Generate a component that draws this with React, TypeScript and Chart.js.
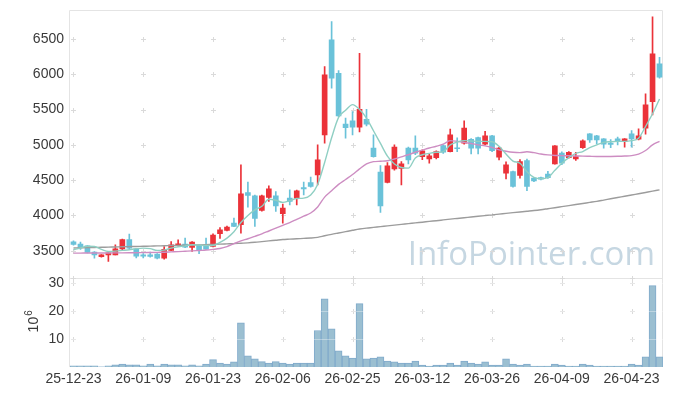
import React, { useEffect, useRef } from 'react';
import { Chart, registerables } from 'chart.js';

Chart.register(...registerables);

const dates = [
  '25-12-23','25-12-24','25-12-26','25-12-29','25-12-30','26-01-02','26-01-05','26-01-06','26-01-07','26-01-08',
  '26-01-09','26-01-12','26-01-13','26-01-14','26-01-15','26-01-16','26-01-19','26-01-20','26-01-21','26-01-22',
  '26-01-23','26-01-26','26-01-27','26-01-28','26-01-29','26-01-30','26-02-02','26-02-03','26-02-04','26-02-05',
  '26-02-06','26-02-09','26-02-10','26-02-11','26-02-12','26-02-13','26-02-19','26-02-20','26-02-23','26-02-24',
  '26-02-25','26-02-26','26-02-27','26-03-03','26-03-04','26-03-05','26-03-06','26-03-09','26-03-10','26-03-11',
  '26-03-12','26-03-13','26-03-16','26-03-17','26-03-18','26-03-19','26-03-20','26-03-23','26-03-24','26-03-25',
  '26-03-26','26-03-27','26-03-30','26-03-31','26-04-01','26-04-02','26-04-03','26-04-06','26-04-07','26-04-08',
  '26-04-09','26-04-10','26-04-13','26-04-14','26-04-15','26-04-16','26-04-17','26-04-20','26-04-21','26-04-22',
  '26-04-23','26-04-24','26-04-27','26-04-28','26-04-29'
];

const opens = [
  3625,3595,3571,3481,3415,3443,3443,3528,3660,3528,
  3443,3443,3453,3396,3505,3571,3595,3547,3576,3576,
  3561,3741,3788,3892,3868,4325,4278,4070,4254,4278,
  4024,4245,4245,4396,4467,4575,5141,6486,6014,5293,
  5340,5250,5363,4953,4613,4467,4660,4665,4953,4953,
  4834,4802,4820,4990,4905,4955,5024,5080,5104,5010,
  5127,4825,4599,4622,4566,4778,4528,4537,4585,4731,
  4882,4820,4802,4962,5155,5127,5085,5024,5085,5047,
  5155,5080,5236,5613,6146
];
const highs = [
  3640,3623,3575,3490,3445,3475,3585,3665,3736,3535,
  3460,3480,3460,3560,3632,3656,3680,3630,3585,3680,
  3740,3830,3850,3962,4717,4472,4290,4290,4420,4339,
  4160,4363,4360,4472,4542,5000,6108,6745,6052,5378,
  5471,6297,5505,5141,4707,4750,5000,4764,4967,5127,
  4930,4870,4915,5000,5222,5100,5340,5090,5110,5190,
  5135,4965,4760,4630,4790,4800,4535,4545,4625,4990,
  4900,4905,4896,5070,5160,5135,5090,5075,5110,5090,
  5203,5226,5721,6815,6241
];
const lows = [
  3580,3520,3470,3396,3410,3350,3440,3515,3530,3400,
  3400,3410,3385,3380,3500,3565,3545,3490,3458,3520,
  3555,3675,3780,3840,3750,4118,3844,4060,4198,4056,
  3892,4150,4151,4292,4400,4434,5024,5802,5400,5095,
  5141,5184,5270,4825,4042,4460,4640,4434,4731,4860,
  4790,4741,4800,4880,4900,4905,5010,4870,4870,5000,
  4905,4788,4519,4400,4530,4353,4480,4505,4525,4725,
  4720,4810,4780,4950,5033,5014,4953,4960,5000,4967,
  4967,5070,5151,5424,5945
];
const closes = [
  3590,3547,3476,3443,3443,3472,3528,3660,3538,3425,
  3425,3420,3396,3519,3585,3599,3552,3623,3505,3524,
  3722,3797,3835,3844,4307,4283,3957,4278,4377,4137,
  4103,4198,4349,4377,4410,4788,5991,5944,5410,5245,
  5250,5505,5293,4834,4137,4703,4967,4731,4788,4882,
  4915,4844,4905,4896,5141,4945,5236,4953,4953,5127,
  4919,4953,4717,4410,4764,4410,4490,4514,4537,4986,
  4741,4896,4834,5056,5071,5071,5010,5005,5047,5085,
  5085,5127,5566,6288,5958
];

const ma5 = [
  3514,3540,3565,3560,3520,3490,3495,3505,3515,3530,
  3538,3530,3505,3510,3538,3555,3570,3585,3580,3575,
  3575,3620,3680,3770,3900,4000,4080,4130,4230,4215,
  4185,4210,4240,4245,4290,4440,4750,5100,5390,5490,
  5570,5500,5380,5200,5020,4840,4730,4680,4670,4815,
  4860,4880,4895,4905,5000,5040,5060,5055,5050,5050,
  5045,4980,4870,4770,4740,4620,4540,4520,4535,4640,
  4740,4820,4880,4905,4960,5000,5035,5045,5050,5050,
  5060,5095,5260,5440,5650
];
const ma20 = [
  3467,3467,3468,3468,3469,3469,3470,3471,3472,3473,
  3474,3476,3478,3480,3484,3488,3493,3498,3504,3510,
  3520,3533,3560,3600,3640,3670,3705,3740,3780,3820,
  3860,3900,3945,3990,4035,4120,4260,4350,4440,4510,
  4580,4660,4730,4762,4768,4775,4800,4830,4860,4895,
  4925,4955,4980,5010,5060,5050,5035,5020,5000,4985,
  4965,4930,4910,4895,4890,4902,4890,4870,4858,4850,
  4848,4845,4843,4840,4838,4836,4835,4836,4838,4842,
  4848,4870,4920,5000,5050
];
const ma60 = [
  3540,3542,3544,3547,3549,3552,3554,3557,3559,3561,
  3564,3566,3569,3571,3574,3576,3579,3582,3584,3587,
  3591,3594,3598,3602,3607,3612,3620,3630,3640,3650,
  3660,3665,3670,3675,3680,3690,3712,3733,3752,3771,
  3790,3808,3821,3831,3842,3852,3863,3874,3884,3895,
  3905,3916,3926,3937,3948,3958,3968,3979,3989,3999,
  4009,4019,4030,4040,4050,4060,4070,4082,4096,4110,
  4125,4140,4155,4170,4185,4200,4218,4236,4254,4272,
  4290,4308,4326,4344,4363
];

const volumes = [
  0.4,0.4,0.4,0.4,0.1,0.4,0.8,1.0,0.8,0.8,
  0.4,1.0,0.4,1.0,0.8,0.8,0.4,0.8,0.4,1.0,
  2.6,1.4,1.0,1.8,15.7,4.0,2.9,1.9,1.4,1.9,
  1.4,1.0,1.4,1.4,1.4,13.0,24.3,13.6,5.8,4.0,
  3.2,22.6,2.9,3.2,3.6,2.1,1.8,1.4,1.4,2.1,
  0.7,0.3,0.7,0.7,1.4,0.7,2.1,1.4,1.0,1.8,
  0.7,0.7,2.9,1.0,0.7,1.0,0.3,0.3,0.3,1.0,
  0.7,0.3,0.3,1.0,0.7,0.3,0.3,0.3,0.3,0.3,
  1.0,0.7,3.6,29.0,3.6
];

const priceTicks = [3500, 4000, 4500, 5000, 5500, 6000, 6500];
const volumeTicks = [10, 20, 30];
const xTickEvery = 10;

const UP = '#eb3239';
const DOWN = '#6ac2d9';
const FONT = '"Liberation Sans", Arial, sans-serif';
const TEXT = '#3a3a3a';

export default function App() {
  const ref = useRef<HTMLCanvasElement>(null);

  useEffect(() => {
    document.body.style.margin = '0';
    const colors = closes.map((c, i) => (c >= opens[i] ? UP : DOWN));

    const decor = {
      id: 'decor',
      beforeDatasetsDraw(chart: any) {
        const { ctx, chartArea } = chart;
        const xs = chart.scales.x;
        const y = chart.scales.y;
        const yv = chart.scales.yv;
        ctx.save();
        // watermark
        ctx.font = '33px "Open Sans", sans-serif';
        ctx.fillStyle = '#c6d7e2';
        ctx.textAlign = 'right';
        ctx.textBaseline = 'alphabetic';
        ctx.fillText('InfoPointer.com', 655, 265);
        // borders
        ctx.strokeStyle = '#e4e4e4';
        ctx.lineWidth = 1;
        const L = Math.round(chartArea.left) - 0.5;
        const R = Math.round(chartArea.right) - 0.5;
        const T = Math.round(chartArea.top) + 0.5;
        const B = Math.round(chartArea.bottom);
        const mid = Math.round(y.bottom) + 0.5;
        ctx.beginPath();
        ctx.moveTo(L, B); ctx.lineTo(L, T); ctx.lineTo(R, T); ctx.lineTo(R, B);
        ctx.moveTo(L, mid); ctx.lineTo(R, mid);
        ctx.stroke();
        // crosses
        ctx.strokeStyle = '#dadada';
        const cross = (px: number, py: number) => {
          const cx = Math.round(px) + 0.5;
          const cy = Math.round(py) + 0.5;
          ctx.beginPath();
          ctx.moveTo(cx - 2.5, cy); ctx.lineTo(cx + 2.5, cy);
          ctx.moveTo(cx, cy - 2.5); ctx.lineTo(cx, cy + 2.5);
          ctx.stroke();
        };
        for (let i = 0; i < dates.length; i += xTickEvery) {
          const px = xs.getPixelForValue(i);
          priceTicks.forEach((v) => cross(px, y.getPixelForValue(v)));
          volumeTicks.forEach((v) => cross(px, yv.getPixelForValue(v)));
          cross(px, y.bottom);
        }
        ctx.restore();
      },
      afterDatasetsDraw(chart: any) {
        const { ctx, chartArea } = chart;
        const yv = chart.scales.yv;
        ctx.save();
        ctx.strokeStyle = 'rgba(255,255,255,0.35)';
        ctx.lineWidth = 1;
        volumeTicks.forEach((v) => {
          const py = Math.round(yv.getPixelForValue(v)) + 0.5;
          ctx.beginPath();
          ctx.moveTo(chartArea.left, py);
          ctx.lineTo(chartArea.right, py);
          ctx.stroke();
        });
        ctx.restore();
      },
      afterDraw(chart: any) {
        const { ctx } = chart;
        const yv = chart.scales.yv;
        const cy = (yv.top + yv.bottom) / 2;
        ctx.save();
        ctx.translate(38, cy + 10);
        ctx.rotate(-Math.PI / 2);
        ctx.fillStyle = TEXT;
        ctx.textAlign = 'left';
        ctx.textBaseline = 'alphabetic';
        ctx.font = '14px ' + FONT;
        ctx.fillText('10', 0, 0);
        const w = ctx.measureText('10').width;
        ctx.font = '10px ' + FONT;
        ctx.fillText('6', w + 1, -6);
        ctx.restore();
      },
    };

    const tickFont = { family: FONT, size: 14 };
    const fitY = (s: any) => { s.width = 70; s.paddingTop = 0; s.paddingBottom = 0; };

    const chart = new Chart(ref.current as HTMLCanvasElement, {
      type: 'bar',
      data: {
        labels: dates,
        datasets: [
          { type: 'line', label: 'MA5', data: ma5, yAxisID: 'y', borderColor: '#8fcfc3', borderWidth: 1.4, pointRadius: 0, cubicInterpolationMode: 'monotone', order: 0 } as any,
          { type: 'line', label: 'MA20', data: ma20, yAxisID: 'y', borderColor: '#cd8dc2', borderWidth: 1.4, pointRadius: 0, cubicInterpolationMode: 'monotone', order: 0 } as any,
          { type: 'line', label: 'MA60', data: ma60, yAxisID: 'y', borderColor: '#9c9c9c', borderWidth: 1.4, pointRadius: 0, cubicInterpolationMode: 'monotone', order: 0 } as any,
          { type: 'bar', label: 'body', data: opens.map((o, i) => [o, closes[i]]), yAxisID: 'y', backgroundColor: colors, barThickness: 5, grouped: false, minBarLength: 1, order: 1 } as any,
          { type: 'bar', label: 'wick', data: lows.map((l, i) => [l, highs[i]]), yAxisID: 'y', backgroundColor: colors, barThickness: 1, grouped: false, order: 2 } as any,
          { type: 'bar', label: 'volume', data: volumes, yAxisID: 'yv', backgroundColor: '#9bbfd1', borderColor: '#80aacb', borderWidth: 1, barPercentage: 1, categoryPercentage: 1, grouped: false, order: 3 } as any,
        ],
      },
      options: {
        responsive: false,
        animation: false,
        layout: { padding: { top: 10, right: 10, left: 0, bottom: 0 } },
        plugins: { legend: { display: false }, tooltip: { enabled: false } },
        scales: {
          x: {
            type: 'category',
            offset: true,
            grid: { display: false, drawTicks: false },
            border: { display: false },
            ticks: {
              autoSkip: false,
              maxRotation: 0,
              minRotation: 0,
              padding: 4,
              color: TEXT,
              font: tickFont,
              callback: (_v: any, i: number) => (i % xTickEvery === 0 ? dates[i] : ''),
            },
            afterFit: (s: any) => { s.height = 29; s.paddingLeft = 0; s.paddingRight = 0; },
          },
          y: {
            type: 'linear',
            position: 'left',
            stack: 'panels',
            stackWeight: 3,
            weight: 2,
            min: 3118,
            max: 6910,
            grid: { display: false, drawTicks: false },
            border: { display: false },
            ticks: { padding: 6, color: TEXT, font: tickFont, callback: (v: any) => String(v) },
            afterBuildTicks: (s: any) => { s.ticks = priceTicks.map((v) => ({ value: v })); },
            afterFit: fitY,
          },
          yv: {
            type: 'linear',
            position: 'left',
            stack: 'panels',
            stackWeight: 1,
            weight: 1,
            min: 0,
            max: 31.8,
            grid: { display: false, drawTicks: false },
            border: { display: false },
            ticks: { padding: 6, color: TEXT, font: tickFont, callback: (v: any) => String(v) },
            afterBuildTicks: (s: any) => { s.ticks = volumeTicks.map((v) => ({ value: v })); },
            afterFit: fitY,
          },
        },
      } as any,
      plugins: [decor],
    });

    return () => chart.destroy();
  }, []);

  return (
    <div style={{ width: 673, height: 396 }}>
      <canvas ref={ref} width={673} height={396} />
    </div>
  );
}
